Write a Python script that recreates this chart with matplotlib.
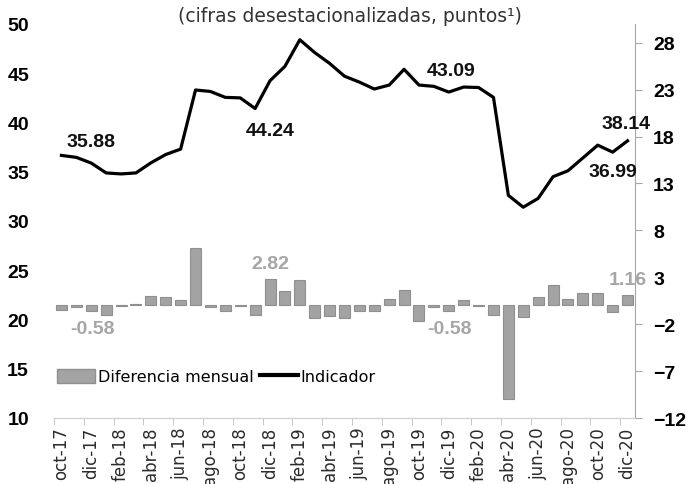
import numpy as np
import matplotlib
matplotlib.use("Agg")
import matplotlib.pyplot as plt
from matplotlib.patches import Patch
from matplotlib.lines import Line2D

# months oct-17 .. dic-20
meses = ["oct-17", "nov-17", "dic-17", "ene-18", "feb-18", "mar-18", "abr-18", "may-18",
         "jun-18", "jul-18", "ago-18", "sep-18", "oct-18", "nov-18", "dic-18", "ene-19",
         "feb-19", "mar-19", "abr-19", "may-19", "jun-19", "jul-19", "ago-19", "sep-19",
         "oct-19", "nov-19", "dic-19", "ene-20", "feb-20", "mar-20", "abr-20", "may-20",
         "jun-20", "jul-20", "ago-20", "sep-20", "oct-20", "nov-20", "dic-20"]

indicador = [36.66, 36.46, 35.88, 34.88, 34.78, 34.88, 35.90, 36.75,
             37.30, 43.30, 43.15, 42.55, 42.50, 41.42, 44.24, 45.70,
             48.40, 47.10, 46.00, 44.70, 44.10, 43.40, 43.80, 45.40,
             43.80, 43.67, 43.09, 43.60, 43.55, 42.55, 32.60, 31.40,
             32.30, 34.50, 35.10, 36.40, 37.70, 36.99, 38.14]

diferencia = [-0.50, -0.20, -0.58, -1.00, -0.10, 0.10, 1.05, 0.90,
              0.60, 6.10, -0.15, -0.60, -0.05, -1.00, 2.82, 1.50,
              2.70, -1.30, -1.15, -1.35, -0.55, -0.60, 0.65, 1.65,
              -1.65, -0.13, -0.58, 0.55, -0.10, -1.05, -10.00, -1.20,
              0.95, 2.20, 0.65, 1.30, 1.30, -0.71, 1.16]

# labelled points: (index, text, dx, dy) in pixels
etiquetas_linea = [(2, "35.88", 0, 22), (14, "44.24", 0, -50), (26, "43.09", 2, 22),
                   (37, "36.99", 0, -19), (38, "38.14", -2, 17)]
etiquetas_barra = [(2, "-0.58", 1, -18), (14, "2.82", 0, 15), (26, "-0.58", 1, -18),
                   (38, "1.16", 0, 15)]

x = np.arange(len(meses))

fig = plt.figure(figsize=(7, 4.85), dpi=100)
ax = fig.add_axes([54 / 700, 66 / 485, 581 / 700, 394 / 485])
ax2 = ax.twinx()

# bars on the secondary (right) axis
ax2.bar(x, diferencia, width=0.74, color="#a3a3a3", edgecolor="#8f8f8f", linewidth=0.8, zorder=2)
ax2.set_ylim(-12, 30)
ax2.set_yticks(np.arange(-12, 29, 5))

# line on the primary (left) axis, drawn above the bars
ax.set_zorder(ax2.get_zorder() + 1)
ax.patch.set_visible(False)
ax.plot(x, indicador, color="black", lw=2.3, zorder=3)
ax.set_ylim(10, 50)
ax.set_yticks(np.arange(10, 51, 5))
ax.set_xlim(-0.5, len(meses) - 0.5)

# x axis: labels every two months, ticks between categories
ax.set_xticks(x[::2])
ax.set_xticklabels(meses[::2], rotation=90, fontsize=12, color="#2b2b2b", family="DejaVu Sans")
ax.set_xticks(np.arange(-0.5, len(meses), 2), minor=True)
ax.tick_params(axis="x", which="major", length=0, pad=6)
ax.tick_params(axis="x", which="minor", length=5, color="#bfbfbf", direction="out")
ax.tick_params(axis="y", length=0, pad=18, labelsize=14)
ax2.tick_params(axis="y", length=5, color="#a6a6a6", direction="out", pad=8, labelsize=14)
for lab in ax.get_yticklabels() + ax2.get_yticklabels():
    lab.set_fontweight("bold")
    lab.set_family("Liberation Sans")

for a in (ax, ax2):
    a.spines["top"].set_visible(False)
    a.spines["left"].set_visible(False)
    a.spines["right"].set_visible(False)
    a.spines["bottom"].set_color("#d0d0d0")
ax2.spines["right"].set_visible(True)
ax2.spines["right"].set_color("#a6a6a6")

for i, txt, dx, dy in etiquetas_linea:
    ax.annotate(txt, (x[i], indicador[i]), xytext=(dx, dy), textcoords="offset pixels",
                ha="center", va="center", fontsize=14, fontweight="bold",
                family="Liberation Sans", color="#111111", zorder=5)
for i, txt, dx, dy in etiquetas_barra:
    ax2.annotate(txt, (x[i], diferencia[i]), xytext=(dx, dy), textcoords="offset pixels",
                 ha="center", va="center", fontsize=14, fontweight="bold",
                 family="Liberation Sans", color="#a6a6a6", zorder=5)

fig.text(0.5, 1 - 17 / 485, "(cifras desestacionalizadas, puntos¹)", ha="center", va="center",
         fontsize=13.5, color="#333333", family="DejaVu Sans")

handles = [Patch(facecolor="#a3a3a3", edgecolor="#8f8f8f"),
           Line2D([0], [0], color="black", lw=3)]
ax.legend(handles, ["Diferencia mensual", "Indicador"], ncol=2, frameon=False,
          loc="center left", bbox_to_anchor=(0.005, 0.105), fontsize=11.5,
          handlelength=2.4, handleheight=1.0, handletextpad=0.15, columnspacing=0.4,
          borderaxespad=0.0, borderpad=0.0)

fig.savefig("out.png", dpi=100)
